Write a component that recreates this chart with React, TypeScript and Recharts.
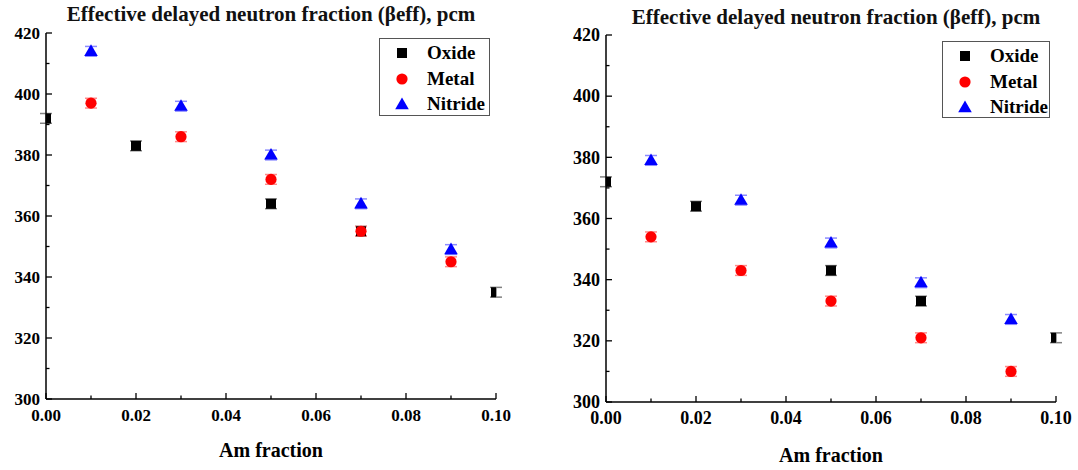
import React from 'react';
import { ScatterChart, Scatter, XAxis, YAxis, ErrorBar, Legend } from 'recharts';

// ---------- data ----------
const TITLE = 'Effective delayed neutron fraction (βeff), pcm';
const X_LABEL = 'Am fraction';
const SERIES_NAMES = ['Oxide', 'Metal', 'Nitride'];

const X_TICKS = [0, 0.02, 0.04, 0.06, 0.08, 0.1];
const X_MINOR = [0.01, 0.03, 0.05, 0.07, 0.09];
const Y_TICKS = [300, 320, 340, 360, 380, 400, 420];
const Y_MINOR = [310, 330, 350, 370, 390, 410];

const OXIDE_X = [0, 0.02, 0.05, 0.07, 0.1];
const OTHER_X = [0.01, 0.03, 0.05, 0.07, 0.09];

const LEFT_OXIDE = [392, 383, 364, 355, 335];
const LEFT_METAL = [397, 386, 372, 355, 345];
const LEFT_NITRIDE = [414, 396, 380, 364, 349];

const RIGHT_OXIDE = [372, 364, 343, 333, 321];
const RIGHT_METAL = [354, 343, 333, 321, 310];
const RIGHT_NITRIDE = [379, 366, 352, 339, 327];

const ERR_OXIDE = [1.6, 1.6, 1.6, 1.6, 1.6];
const ERR_METAL = [1.6, 1.6, 1.6, 1.6, 1.6];
const ERR_NITRIDE = [1.6, 1.6, 1.6, 1.6, 1.6];

const FONT = 'Liberation Serif, Times New Roman, DejaVu Serif, serif';

const toPoints = (xs: number[], ys: number[], errs: number[]) =>
  xs.map((x, i) => ({ x, y: ys[i], err: errs[i] }));

const isIn = (list: number[], v: number) => list.some((m) => Math.abs(m - v) < 1e-9);

// ---------- shapes ----------
const SquareShape = (p: any) => (
  <rect x={p.cx - 5} y={p.cy - 5} width={10} height={10} fill="#000000" />
);
const CircleShape = (p: any) => <circle cx={p.cx} cy={p.cy} r={5.6} fill="#ff0000" />;
const TriangleShape = (p: any) => (
  <path
    d={`M${p.cx},${p.cy - 7}L${p.cx + 6.8},${p.cy + 4.6}L${p.cx - 6.8},${p.cy + 4.6}Z`}
    fill="#0000ff"
  />
);

const LegendSymbol = ({ i }: { i: number }) => (
  <svg width={16} height={16} style={{ display: 'block' }}>
    {i === 0 && <rect x={3} y={3} width={10} height={10} fill="#000" />}
    {i === 1 && <circle cx={8} cy={8} r={5.6} fill="#ff0000" />}
    {i === 2 && <path d="M8,1.5L14.8,13.2L1.2,13.2Z" fill="#0000ff" />}
  </svg>
);

// ---------- tick renderers ----------
function makeTick(side: string, majors: number[], fontSize: number, digits: number, gap: number) {
  return function TickMark(props: any) {
    const { x, y, payload } = props;
    const v = payload.value;
    const major = isIn(majors, v);
    const len = major ? 6 : 3.5;
    const st = { stroke: '#000', strokeWidth: 1.3 };
    let line: any = null;
    let label: any = null;
    const textStyle = { fontFamily: FONT, fontWeight: 'bold' as const, fontSize };
    if (side === 'bottom') {
      line = <line x1={x} y1={y} x2={x} y2={y - len} {...st} />;
      if (major)
        label = (
          <text x={x} y={y + gap} textAnchor="middle" style={textStyle} fill="#000">
            {v.toFixed(digits)}
          </text>
        );
    } else if (side === 'top') {
      line = <line x1={x} y1={y} x2={x} y2={y + len} {...st} />;
    } else if (side === 'left') {
      line = <line x1={x} y1={y} x2={x + len} y2={y} {...st} />;
      if (major)
        label = (
          <text x={x - gap} y={y + fontSize * 0.35} textAnchor="end" style={textStyle} fill="#000">
            {v.toFixed(digits)}
          </text>
        );
    } else {
      line = <line x1={x} y1={y} x2={x - len} y2={y} {...st} />;
    }
    return (
      <g>
        {line}
        {label}
      </g>
    );
  };
}

const ALL_X = [...X_TICKS, ...X_MINOR].sort((a, b) => a - b);
const ALL_Y = [...Y_TICKS, ...Y_MINOR].sort((a, b) => a - b);

type PanelProps = {
  left: number;
  width: number;
  yAxisWidth: number;
  marginRight: number;
  marginTop: number;
  xAxisHeight: number;
  labelOffset: number;
  tickFont: number;
  titleCenter: number;
  titleTop: number;
  legendBox: { left: number; top: number; width: number; height: number };
  oxide: number[];
  metal: number[];
  nitride: number[];
};

function Panel(p: PanelProps) {
  const oxideData = toPoints(OXIDE_X, p.oxide, ERR_OXIDE);
  const metalData = toPoints(OTHER_X, p.metal, ERR_METAL);
  const nitrideData = toPoints(OTHER_X, p.nitride, ERR_NITRIDE);

  const renderLegend = (props: any) => {
    const payload = [...(props.payload || [])].sort(
      (a: any, b: any) => SERIES_NAMES.indexOf(a.value) - SERIES_NAMES.indexOf(b.value)
    );
    return (
      <div
        style={{
          position: 'relative',
          width: p.legendBox.width,
          height: p.legendBox.height,
          border: '1.5px solid #555',
          boxSizing: 'border-box',
          background: '#fff',
          fontFamily: FONT,
          fontWeight: 'bold',
          fontSize: 19,
          color: '#000',
        }}
      >
        {payload.map((e: any, i: number) => (
          <React.Fragment key={i}>
            <div style={{ position: 'absolute', left: 14, top: 6 + i * 25.5 }}>
              <LegendSymbol i={SERIES_NAMES.indexOf(e.value)} />
            </div>
            <div style={{ position: 'absolute', left: 47, top: 4 + i * 25.5, lineHeight: '20px', whiteSpace: 'nowrap' }}>
              {e.value}
            </div>
          </React.Fragment>
        ))}
      </div>
    );
  };

  const axisLine = { stroke: '#000', strokeWidth: 1.5 };

  return (
    <div style={{ position: 'absolute', left: p.left, top: 0, width: p.width, height: 470 }}>
      <div
        style={{
          position: 'absolute',
          left: p.titleCenter - 300,
          width: 600,
          top: p.titleTop,
          textAlign: 'center',
          fontFamily: FONT,
          fontWeight: 'bold',
          fontSize: 21,
          lineHeight: '21px',
          color: '#111',
          zIndex: 2,
        }}
      >
        {TITLE}
      </div>
      <ScatterChart
        width={p.width}
        height={470}
        margin={{ top: p.marginTop, right: p.marginRight, bottom: 0, left: 0 }}
      >
        <XAxis
          type="number"
          dataKey="x"
          domain={[0, 0.1]}
          ticks={ALL_X}
          interval={0}
          allowDataOverflow
          height={p.xAxisHeight}
          axisLine={axisLine}
          tickLine={false}
          tickSize={0}
          tickMargin={0}
          tick={makeTick('bottom', X_TICKS, p.tickFont, 2, 22)}
          label={{
            value: X_LABEL,
            position: 'insideBottom',
            offset: p.labelOffset,
            style: { fontFamily: FONT, fontWeight: 'bold', fontSize: 20, fill: '#000' },
          }}
        />
        <XAxis
          xAxisId="top"
          orientation="top"
          type="number"
          dataKey="x"
          domain={[0, 0.1]}
          ticks={ALL_X}
          interval={0}
          allowDataOverflow
          height={0}
          axisLine={axisLine}
          tickLine={false}
          tickSize={0}
          tickMargin={0}
          tick={makeTick('top', X_TICKS, p.tickFont, 2, 0)}
        />
        <YAxis
          type="number"
          dataKey="y"
          domain={[300, 420]}
          ticks={ALL_Y}
          interval={0}
          allowDataOverflow
          width={p.yAxisWidth}
          axisLine={axisLine}
          tickLine={false}
          tickSize={0}
          tickMargin={0}
          tick={makeTick('left', Y_TICKS, p.tickFont, 0, 6)}
        />
        <YAxis
          yAxisId="right"
          orientation="right"
          type="number"
          dataKey="y"
          domain={[300, 420]}
          ticks={ALL_Y}
          interval={0}
          allowDataOverflow
          width={0}
          axisLine={axisLine}
          tickLine={false}
          tickSize={0}
          tickMargin={0}
          tick={makeTick('right', Y_TICKS, p.tickFont, 0, 0)}
        />
        <Legend
          layout="vertical"
          align="center"
          verticalAlign="middle"
          wrapperStyle={{
            left: p.legendBox.left,
            top: p.legendBox.top,
            width: p.legendBox.width,
            height: p.legendBox.height,
          }}
          content={renderLegend}
        />
        <Scatter name={SERIES_NAMES[0]} data={oxideData} fill="#000000" shape={SquareShape} isAnimationActive={false}>
          <ErrorBar dataKey="err" direction="y" width={6} stroke="#808080" strokeWidth={1.5} />
        </Scatter>
        <Scatter name={SERIES_NAMES[1]} data={metalData} fill="#ff0000" shape={CircleShape} isAnimationActive={false}>
          <ErrorBar dataKey="err" direction="y" width={6} stroke="#ff8a8a" strokeWidth={1.5} />
        </Scatter>
        <Scatter name={SERIES_NAMES[2]} data={nitrideData} fill="#0000ff" shape={TriangleShape} isAnimationActive={false}>
          <ErrorBar dataKey="err" direction="y" width={6} stroke="#8a8aff" strokeWidth={1.5} />
        </Scatter>
      </ScatterChart>
    </div>
  );
}

export default function App() {
  return (
    <div style={{ position: 'absolute', left: 0, top: 0, width: 1078, height: 470, background: '#fff', overflow: 'hidden' }}>
      <Panel
        left={0}
        width={540}
        yAxisWidth={46}
        marginRight={44}
        marginTop={33}
        xAxisHeight={71}
        labelOffset={13}
        tickFont={17}
        titleCenter={271}
        titleTop={4}
        legendBox={{ left: 379, top: 38, width: 111, height: 78 }}
        oxide={LEFT_OXIDE}
        metal={LEFT_METAL}
        nitride={LEFT_NITRIDE}
      />
      <Panel
        left={540}
        width={538}
        yAxisWidth={66}
        marginRight={22}
        marginTop={35}
        xAxisHeight={68}
        labelOffset={8}
        tickFont={18}
        titleCenter={296}
        titleTop={7}
        legendBox={{ left: 402, top: 41, width: 108, height: 77 }}
        oxide={RIGHT_OXIDE}
        metal={RIGHT_METAL}
        nitride={RIGHT_NITRIDE}
      />
    </div>
  );
}
